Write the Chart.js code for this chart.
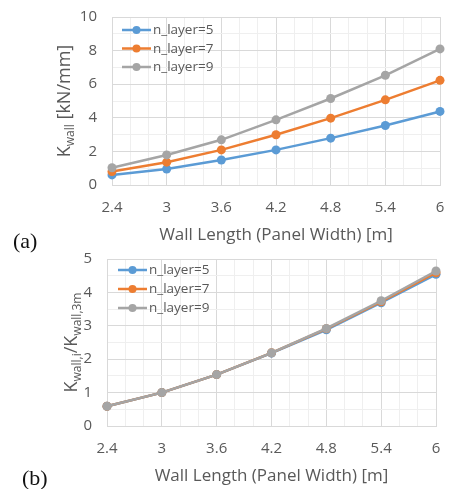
<!DOCTYPE html>
<html>
<head>
<meta charset="utf-8">
<script src="https://cdn.jsdelivr.net/npm/chart.js@4/dist/chart.umd.min.js"></script>
<style>
  html, body { margin: 0; padding: 0; background: #fff; }
  #wrap { position: relative; width: 450px; height: 489px; overflow: hidden; }
  .box { position: absolute; left: 0; width: 450px; }
  .tag { position: absolute; font-family: "Liberation Serif", serif; font-size: 22px; line-height: 22px; color: #111; }
</style>
</head>
<body>
<div id="wrap">
  <div class="box" style="top:0;height:245px"><canvas id="chartA"></canvas></div>
  <div class="box" style="top:245px;height:244px"><canvas id="chartB"></canvas></div>
  <div class="tag" style="left:13px;top:230px">(a)</div>
  <div class="tag" style="left:22px;top:467px">(b)</div>
</div>
<script>
// data
const wallLength = [2.4, 3, 3.6, 4.2, 4.8, 5.4, 6];
const seriesNames = ["n_layer=5", "n_layer=7", "n_layer=9"];
const seriesColors = ["#5B9BD5", "#ED7D31", "#A5A5A5"];

const kWall5 = [0.6, 0.95, 1.49, 2.09, 2.79, 3.54, 4.38];
const kWall7 = [0.8, 1.36, 2.09, 2.99, 3.98, 5.07, 6.23];
const kWall9 = [1.03, 1.79, 2.69, 3.88, 5.15, 6.53, 8.1];

const ratio5 = [0.59, 1, 1.54, 2.18, 2.88, 3.69, 4.54];
const ratio7 = [0.59, 1, 1.54, 2.19, 2.91, 3.72, 4.59];
const ratio9 = [0.59, 1, 1.54, 2.19, 2.92, 3.75, 4.64];

const xTitle = "Wall Length (Panel Width) [m]";
const yTitleA = [["K", 0], ["wall", 1], [" [kN/mm]", 0]];
const yTitleB = [["K", 0], ["wall,i", 1], ["/K", 0], ["wall,3m", 1]];

const FONT = "'Open Sans', sans-serif";
const TXT = "#595959";
const GRID = "#d9d9d9";
const MINOR = "#efefef";

const onStep = (v, start, step) => {
  const k = (v - start) / step;
  return Math.abs(k - Math.round(k)) < 1e-6;
};

// y axis title with subscripts, drawn rotated
const yTitlePlugin = {
  id: "yTitle",
  afterDraw(chart, args, opts) {
    const ctx = chart.ctx;
    const big = "18px " + FONT, small = "12px " + FONT;
    let total = 0;
    opts.parts.forEach(([t, sub]) => {
      ctx.font = sub ? small : big;
      total += ctx.measureText(t).width;
    });
    const cy = (chart.chartArea.top + chart.chartArea.bottom) / 2;
    ctx.save();
    ctx.translate(opts.x, cy);
    ctx.rotate(-Math.PI / 2);
    ctx.fillStyle = TXT;
    ctx.textBaseline = "alphabetic";
    let x = -total / 2;
    opts.parts.forEach(([t, sub]) => {
      ctx.font = sub ? small : big;
      ctx.fillText(t, x, sub ? 4 : 0);
      x += ctx.measureText(t).width;
    });
    ctx.restore();
  }
};

// legend inside the plot, line + dot like the original
const insideLegend = {
  id: "insideLegend",
  afterDraw(chart, args, opts) {
    const ctx = chart.ctx;
    ctx.save();
    ctx.font = "13.5px " + FONT;
    ctx.textBaseline = "middle";
    seriesNames.forEach((name, i) => {
      const y = opts.y + i * opts.dy;
      ctx.strokeStyle = seriesColors[i];
      ctx.lineWidth = 2.5;
      ctx.beginPath();
      ctx.moveTo(opts.x, y);
      ctx.lineTo(opts.x + 29, y);
      ctx.stroke();
      ctx.fillStyle = seriesColors[i];
      ctx.beginPath();
      ctx.arc(opts.x + 14.5, y, 4, 0, Math.PI * 2);
      ctx.fill();
      ctx.fillStyle = TXT;
      ctx.fillText(name, opts.x + 31, y + 0.5);
    });
    ctx.restore();
  }
};

function makeDatasets(series) {
  return series.map((vals, i) => ({
    label: seriesNames[i],
    data: wallLength.map((x, j) => ({ x: x, y: vals[j] })),
    borderColor: seriesColors[i],
    backgroundColor: seriesColors[i],
    borderWidth: 2.5,
    pointRadius: 4.5,
    pointHoverRadius: 4.5,
    pointBorderWidth: 0,
    tension: 0,
    clip: false,
    order: 2 - i
  }));
}

function makeChart(id, series, cfg) {
  return new Chart(document.getElementById(id), {
    type: "line",
    data: { datasets: makeDatasets(series) },
    options: {
      responsive: true,
      maintainAspectRatio: false,
      animation: false,
      events: [],
      layout: { padding: { top: cfg.top, right: cfg.right, left: 0, bottom: 0 } },
      plugins: {
        legend: { display: false },
        tooltip: { enabled: false },
        yTitle: { parts: cfg.yParts, x: cfg.yTitleX },
        insideLegend: cfg.legend
      },
      scales: {
        x: {
          type: "linear",
          min: 2.4,
          max: 6,
          afterFit: (s) => { s.height = cfg.xHeight; s.paddingLeft = 0; s.paddingRight = 0; },
          ticks: {
            stepSize: 0.2,
            autoSkip: false,
            maxRotation: 0,
            padding: 14,
            color: TXT,
            font: { family: FONT, size: 15 },
            callback: (v) => onStep(v, 2.4, 0.6) ? String(Math.round(v * 10) / 10) : ""
          },
          grid: {
            drawTicks: false,
            color: (c) => (c.tick && onStep(c.tick.value, 2.4, 0.6)) ? GRID : MINOR,
            lineWidth: 1
          },
          border: { color: GRID },
          title: {
            display: true,
            text: xTitle,
            color: TXT,
            font: { family: FONT, size: 17 },
            padding: { top: 0, bottom: cfg.titlePad }
          }
        },
        y: {
          min: 0,
          max: cfg.yMax,
          afterFit: (s) => { s.width = cfg.yWidth; s.paddingTop = 0; s.paddingBottom = 0; },
          ticks: {
            stepSize: cfg.yMinor,
            autoSkip: false,
            padding: 15,
            color: TXT,
            font: { family: FONT, size: 15 },
            callback: (v) => onStep(v, 0, cfg.yMajor) ? String(v) : ""
          },
          grid: {
            drawTicks: false,
            color: (c) => (c.tick && onStep(c.tick.value, 0, cfg.yMajor)) ? GRID : MINOR,
            lineWidth: 1
          },
          border: { color: GRID }
        }
      }
    },
    plugins: [yTitlePlugin, insideLegend]
  });
}

makeChart("chartA", [kWall5, kWall7, kWall9], {
  top: 17, right: 10, xHeight: 60, yWidth: 112, titlePad: 0,
  yMax: 10, yMajor: 2, yMinor: 1,
  yParts: yTitleA, yTitleX: 70,
  legend: { x: 122, y: 30, dy: 18.5 }
});

makeChart("chartB", [ratio5, ratio7, ratio9], {
  top: 14, right: 14, xHeight: 63, yWidth: 107, titlePad: 3,
  yMax: 5, yMajor: 1, yMinor: 0.5,
  yParts: yTitleB, yTitleX: 77,
  legend: { x: 118, y: 25, dy: 19 }
});
</script>
</body>
</html>
